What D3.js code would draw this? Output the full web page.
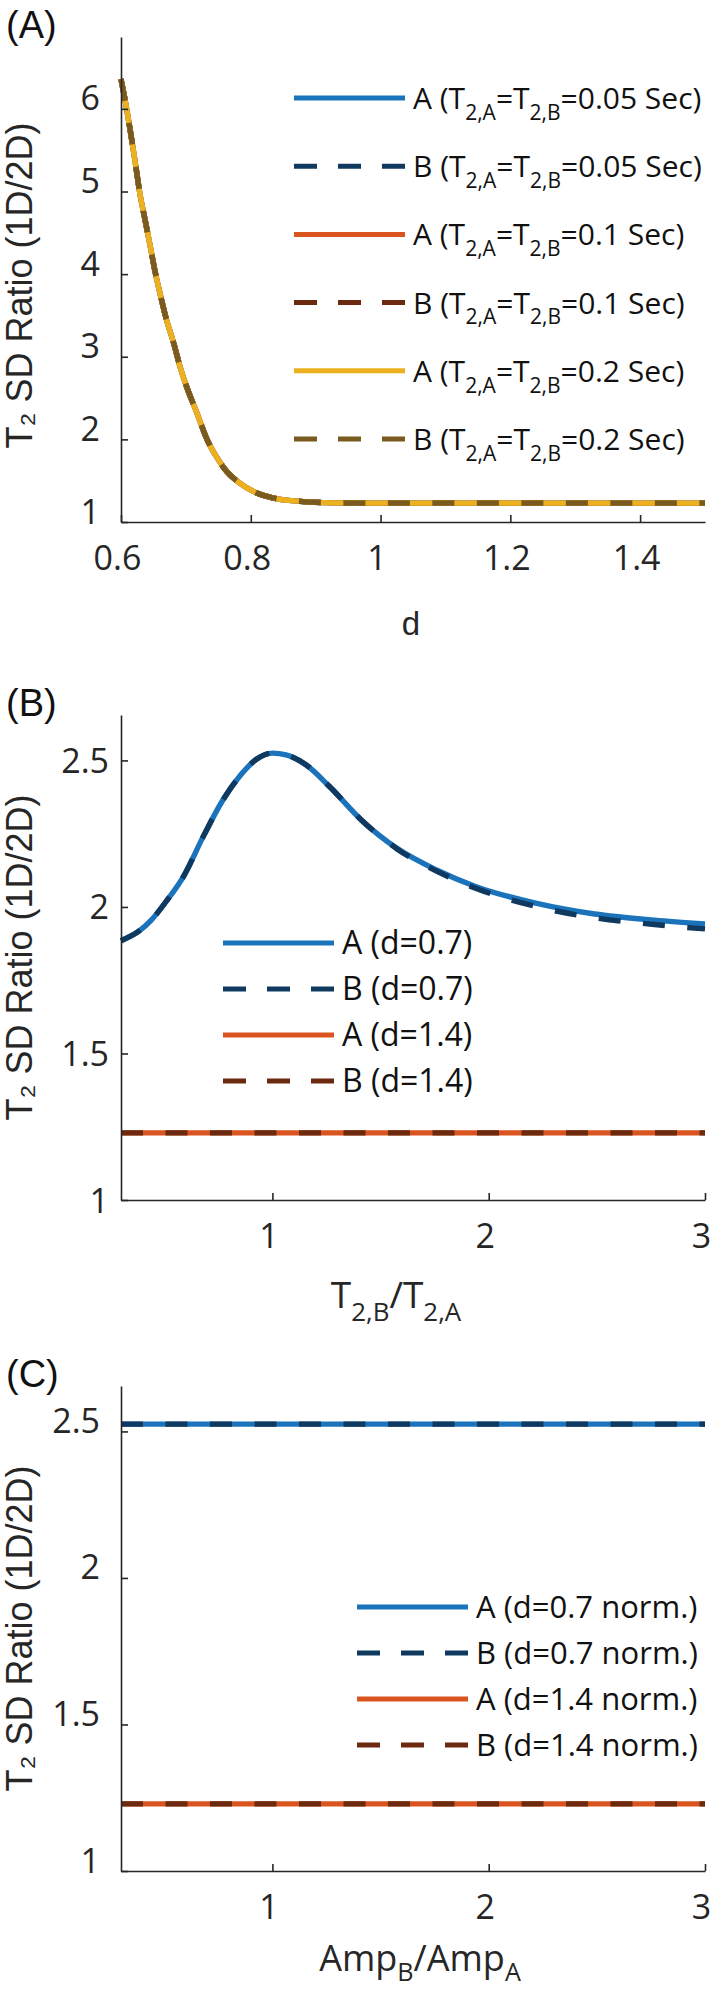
<!DOCTYPE html>
<html>
<head>
<meta charset="utf-8">
<script src="https://cdn.jsdelivr.net/npm/d3@7"></script>
<style>
  body { margin: 0; background: #fff; }
  svg { display: block; }
</style>
</head>
<body>
<svg id="chart" width="712" height="1992"></svg>
<script>
// ---------------- DATA ----------------
// Panel A : ratio vs d (all three T2 settings give the same curve)
const dValues   = [0.600,0.606,0.614,0.622,0.629,0.637,0.645,0.652,0.660,0.670,0.681,0.691,0.701,0.717,0.732,0.747,0.763,0.783,0.804,0.835,0.876,0.927,1.000,1.100,1.200,1.300,1.400,1.500];
const ratioA_T005 = [6.36,6.12,5.75,5.35,4.98,4.66,4.34,4.05,3.77,3.45,3.17,2.88,2.64,2.32,2.01,1.79,1.61,1.47,1.37,1.29,1.25,1.232,1.228,1.228,1.228,1.228,1.228,1.228];
const ratioB_T005 = ratioA_T005;
const ratioA_T01  = ratioA_T005;
const ratioB_T01  = ratioA_T005;
const ratioA_T02  = ratioA_T005;
const ratioB_T02  = ratioA_T005;
const xTicksA = [0.6, 0.8, 1, 1.2, 1.4];
const yTicksA = [1, 2, 3, 4, 5, 6];

// Panel B : ratio vs T2,B/T2,A
const t2Ratio    = [0.30,0.386,0.441,0.514,0.588,0.68,0.771,0.853,0.926,1.0,1.063,1.155,1.265,1.411,1.576,1.759,1.942,2.217,2.49,2.767,3.0];
const ratioA_d07 = [1.885,1.919,1.956,2.024,2.103,2.24,2.365,2.45,2.504,2.525,2.519,2.485,2.41,2.297,2.20,2.126,2.069,2.013,1.976,1.955,1.942];
const ratioB_d07 = [1.885,1.919,1.956,2.024,2.103,2.24,2.365,2.45,2.504,2.525,2.519,2.485,2.41,2.297,2.198,2.122,2.063,2.002,1.963,1.940,1.925];
const t2RatioFlat = [0.3, 3.0];
const ratioA_d14 = [1.229, 1.229];
const ratioB_d14 = [1.229, 1.229];

// Panel C : ratio vs AmpB/AmpA
const ampRatio = [0.3, 3.0];
const ratioA_d07n = [2.525, 2.525];
const ratioB_d07n = [2.525, 2.525];
const ratioA_d14n = [1.229, 1.229];
const ratioB_d14n = [1.229, 1.229];

const xTicksBC = [1, 2, 3];
const yTicksBC = [1, 1.5, 2, 2.5];

// legend label texts (segments, sub = subscript)
const legendA = [
  [{t:"A (T"},{t:"2,A",sub:1},{t:"=T"},{t:"2,B",sub:1},{t:"=0.05 Sec)"}],
  [{t:"B (T"},{t:"2,A",sub:1},{t:"=T"},{t:"2,B",sub:1},{t:"=0.05 Sec)"}],
  [{t:"A (T"},{t:"2,A",sub:1},{t:"=T"},{t:"2,B",sub:1},{t:"=0.1 Sec)"}],
  [{t:"B (T"},{t:"2,A",sub:1},{t:"=T"},{t:"2,B",sub:1},{t:"=0.1 Sec)"}],
  [{t:"A (T"},{t:"2,A",sub:1},{t:"=T"},{t:"2,B",sub:1},{t:"=0.2 Sec)"}],
  [{t:"B (T"},{t:"2,A",sub:1},{t:"=T"},{t:"2,B",sub:1},{t:"=0.2 Sec)"}]
];
const legendB = [[{t:"A (d=0.7)"}],[{t:"B (d=0.7)"}],[{t:"A (d=1.4)"}],[{t:"B (d=1.4)"}]];
const legendC = [[{t:"A (d=0.7 norm.)"}],[{t:"B (d=0.7 norm.)"}],[{t:"A (d=1.4 norm.)"}],[{t:"B (d=1.4 norm.)"}]];

// ---------------- STYLE ----------------
const C = {
  blue: "#1b74bb", navy: "#10395f",
  orange: "#d9541e", brown: "#6b2a10",
  yellow: "#ecb11f", olive: "#7a5b1f",
  axis: "#262626"
};
const tickFont = "'Open Sans', 'Noto Sans', sans-serif";
const helv = "'Liberation Sans', Arial, sans-serif";

const svg = d3.select("#chart");
svg.append("rect").attr("width", 712).attr("height", 1992).attr("fill", "#fff");

function rich(textSel, parts, size, drop) {
  const dd = size * (drop || 0.36);
  let prevSub = false;
  parts.forEach(p => {
    const ts = textSel.append("tspan").text(p.t);
    if (p.sub) { ts.attr("font-size", size * 0.7).attr("dy", dd); prevSub = true; }
    else { if (prevSub) ts.attr("dy", -dd); prevSub = false; }
  });
}

function drawPanel(cfg) {
  const g = svg.append("g");
  const x = d3.scaleLinear().domain(cfg.xDomain).range([121, 705]);
  const y = d3.scaleLinear().domain(cfg.yDomain).range([cfg.bottom, cfg.top]);

  // series
  const line = d3.line().x(d => x(d[0])).y(d => y(d[1])).curve(d3.curveMonotoneX);
  cfg.series.forEach(s => {
    const pts = s.x.map((v, i) => [v, s.y[i]]);
    g.append("path").attr("d", line(pts))
      .attr("fill", "none").attr("stroke", s.color)
      .attr("stroke-width", 5.4)
      .attr("stroke-dasharray", s.dash ? "22,22.5" : null);
  });

  // axes
  const xa = g.append("g").attr("transform", `translate(0,${cfg.bottom})`)
    .call(d3.axisBottom(x).tickValues(cfg.xTicks).tickSize(-7).tickSizeOuter(0).tickFormat(d3.format("")));
  const ya = g.append("g").attr("transform", `translate(121,0)`)
    .call(d3.axisLeft(y).tickValues(cfg.yTicks).tickSize(-7).tickSizeOuter(0).tickFormat(d3.format("")));
  [xa, ya].forEach(a => {
    a.select(".domain").attr("stroke", C.axis).attr("stroke-width", 1.6);
    a.selectAll(".tick line").attr("stroke", C.axis).attr("stroke-width", 1.6);
    a.selectAll(".tick text").attr("fill", C.axis).attr("font-family", tickFont).attr("font-size", 34);
  });
  xa.selectAll(".tick text").attr("y", 48).attr("dy", null).attr("x", -4);
  ya.selectAll(".tick text").attr("x", cfg.yLabelRight - 121).attr("dy", 12 - cfg.yLabelShift);

  // panel letter
  g.append("text").attr("x", 6).attr("y", cfg.top + 1)
    .attr("font-family", helv).attr("font-size", 38).attr("fill", "#111")
    .text(cfg.letter);

  // y label
  g.append("text")
    .attr("transform", `translate(32,${(cfg.top + cfg.bottom) / 2 + cfg.yTitleShift}) rotate(-90)`)
    .attr("text-anchor", "middle").attr("font-family", helv).attr("font-size", 36)
    .attr("fill", C.axis).text("T\u2082 SD Ratio (1D/2D)");

  // x label
  const xl = g.append("text").attr("x", cfg.xTitleX).attr("y", cfg.bottom + cfg.xTitleDy)
    .attr("text-anchor", "middle").attr("fill", C.axis)
    .attr("font-family", cfg.xTitleFont).attr("font-size", cfg.xTitleSize);
  rich(xl, cfg.xTitle, cfg.xTitleSize, cfg.xTitleDrop);

  // legend
  cfg.series.forEach((s, i) => {
    const ly = cfg.legend.y0 + i * cfg.legend.dy;
    g.append("line").attr("x1", cfg.legend.x0).attr("x2", cfg.legend.x0 + 111)
      .attr("y1", ly).attr("y2", ly).attr("stroke", s.color).attr("stroke-width", 5)
      .attr("stroke-dasharray", s.dash ? "23,21" : null);
    const t = g.append("text").attr("x", cfg.legend.x0 + 119).attr("y", ly + 11)
      .attr("font-family", tickFont).attr("font-size", cfg.legend.size).attr("fill", "#111");
    rich(t, cfg.legend.labels[i], cfg.legend.size);
  });
}

drawPanel({
  letter: "(A)", top: 37, bottom: 522,
  xDomain: [0.6, 1.5], yDomain: [1, 6.87],
  xTicks: xTicksA, yTicks: yTicksA,
  yLabelRight: 100, yLabelShift: 11, yTitleShift: 6,
  xTitle: [{t:"d"}], xTitleFont: helv, xTitleSize: 33, xTitleDy: 113, xTitleX: 411,
  series: [
    {x: dValues, y: ratioA_T005, color: C.blue},
    {x: dValues, y: ratioB_T005, color: C.navy, dash: true},
    {x: dValues, y: ratioA_T01, color: C.orange},
    {x: dValues, y: ratioB_T01, color: C.brown, dash: true},
    {x: dValues, y: ratioA_T02, color: C.yellow},
    {x: dValues, y: ratioB_T02, color: C.olive, dash: true}
  ],
  legend: {x0: 294, y0: 98, dy: 68.2, size: 30, labels: legendA}
});

drawPanel({
  letter: "(B)", top: 715, bottom: 1200,
  xDomain: [0.3, 3], yDomain: [1, 2.655],
  xTicks: xTicksBC, yTicks: yTicksBC,
  yLabelRight: 109, yLabelShift: 0, yTitleShift: 0,
  xTitle: [{t:"T"},{t:"2,B",sub:1},{t:"/T"},{t:"2,A",sub:1}], xTitleFont: tickFont, xTitleSize: 37, xTitleDy: 108, xTitleX: 396,
  series: [
    {x: t2Ratio, y: ratioA_d07, color: C.blue},
    {x: t2Ratio, y: ratioB_d07, color: C.navy, dash: true},
    {x: t2RatioFlat, y: ratioA_d14, color: C.orange},
    {x: t2RatioFlat, y: ratioB_d14, color: C.brown, dash: true}
  ],
  legend: {x0: 223, y0: 943, dy: 46, size: 32, labels: legendB}
});

drawPanel({
  letter: "(C)", top: 1386, bottom: 1871,
  xDomain: [0.3, 3], yDomain: [1, 2.655],
  xTicks: xTicksBC, yTicks: yTicksBC,
  yLabelRight: 100, yLabelShift: 11, yTitleShift: 0,
  xTitle: [{t:"Amp"},{t:"B",sub:1},{t:"/Amp"},{t:"A",sub:1}], xTitleFont: tickFont, xTitleSize: 36, xTitleDy: 100, xTitleX: 420, xTitleDrop: 0.28,
  series: [
    {x: ampRatio, y: ratioA_d07n, color: C.blue},
    {x: ampRatio, y: ratioB_d07n, color: C.navy, dash: true},
    {x: ampRatio, y: ratioA_d14n, color: C.orange},
    {x: ampRatio, y: ratioB_d14n, color: C.brown, dash: true}
  ],
  legend: {x0: 357, y0: 1607, dy: 46, size: 31, labels: legendC}
});
</script>
</body>
</html>
